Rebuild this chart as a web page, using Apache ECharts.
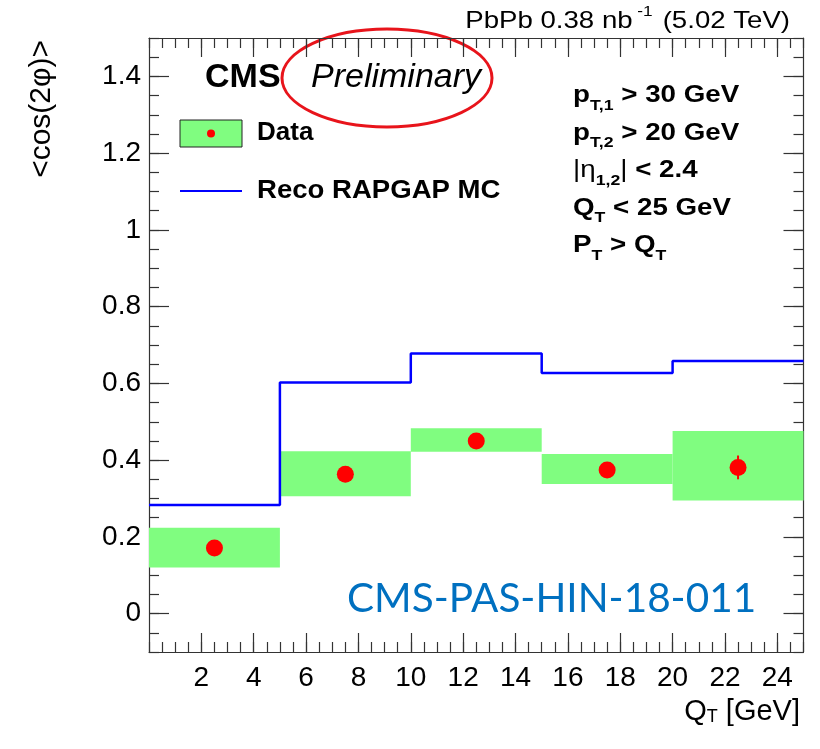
<!DOCTYPE html>
<html>
<head>
<meta charset="utf-8">
<script src="https://cdn.jsdelivr.net/npm/echarts@6/dist/echarts.min.js"></script>
<style>
  html, body { margin: 0; padding: 0; background: #fff; }
  #chart { width: 820px; height: 749px; }
</style>
</head>
<body>
<div id="chart"></div>
<script>
// bins of Q_T [GeV]
const binEdges = [0, 5, 10, 15, 20, 25];
// data points and uncertainties
const dataValues = [0.171, 0.363, 0.450, 0.374, 0.381];
const dataStatErr = [0.015, 0.015, 0.013, 0.013, 0.031];
const dataSystLow = [0.120, 0.306, 0.422, 0.338, 0.295];
const dataSystHigh = [0.224, 0.423, 0.483, 0.416, 0.476];
// Reco RAPGAP MC histogram
const mcValues = [0.283, 0.602, 0.678, 0.627, 0.658];
// axis ticks
const xTickValues = [2, 4, 6, 8, 10, 12, 14, 16, 18, 20, 22, 24];
const yTickValues = [0, 0.2, 0.4, 0.6, 0.8, 1, 1.2, 1.4];
// selection cuts (rich text)
const cutLines = [
    '{n|p}{s|T,1}{n| > 30 GeV}',
    '{n|p}{s|T,2}{n| > 20 GeV}',
    '{t||η}{s|1,2}{t||}{n| < 2.4}',
    '{n|Q}{s|T}{n| < 25 GeV}',
    '{n|P}{s|T}{n| > Q}{s|T}'
];

const FONT = '"Liberation Sans", Arial, Helvetica, sans-serif';
const FRAME = '#333';

const chart = echarts.init(document.getElementById('chart'), null, {renderer: 'canvas'});

const bands = dataValues.map((v, i) => [binEdges[i], binEdges[i + 1], dataSystLow[i], dataSystHigh[i]]);
const points = dataValues.map((v, i) => [(binEdges[i] + binEdges[i + 1]) / 2, v]);
const errors = dataValues.map((v, i) => [(binEdges[i] + binEdges[i + 1]) / 2, v - dataStatErr[i], v + dataStatErr[i]]);
const mcLine = mcValues.map((v, i) => [binEdges[i], v]);
mcLine.push([binEdges[binEdges.length - 1], mcValues[mcValues.length - 1]]);

function xAxisDef(position, major, showLabel) {
    return {
        type: 'value', position: position, min: 0, max: 25,
        interval: major ? 2 : 0.5,
        axisLine: {show: major, onZero: false, lineStyle: {color: FRAME, width: 1.2}},
        axisTick: {show: true, inside: true, length: major ? 19 : 10,
            customValues: major ? xTickValues : undefined,
            lineStyle: {color: FRAME, width: 1.2}},
        axisLabel: {show: showLabel, customValues: xTickValues, margin: 12,
            color: '#000', fontSize: 28, fontFamily: FONT},
        splitLine: {show: false}
    };
}

function yAxisDef(position, major, showLabel) {
    const ax = {
        type: 'value', position: position, min: -0.1, max: 1.5,
        axisLine: {show: major, onZero: false, lineStyle: {color: FRAME, width: 1.2}},
        axisTick: {show: true, inside: true, length: major ? 20 : 10,
            lineStyle: {color: FRAME, width: 1.2}},
        axisLabel: {show: showLabel, customValues: yTickValues, margin: 8,
            color: '#000', fontSize: 28, fontFamily: FONT,
            formatter: v => String(Math.round(v * 10) / 10)},
        splitLine: {show: false}
    };
    if (major) {
        ax.axisTick.customValues = yTickValues;
    } else {
        ax.interval = 0.05;
    }
    return ax;
}

const cutRich = {
    n: {fontSize: 23.5, fontWeight: 'bold', fontFamily: FONT, fill: '#000', lineHeight: 26, verticalAlign: 'top'},
    t: {fontSize: 23.5, fontWeight: 'normal', fontFamily: FONT, fill: '#000', lineHeight: 26, verticalAlign: 'top'},
    s: {fontSize: 15, fontWeight: 'bold', fontFamily: FONT, fill: '#000', lineHeight: 26, padding: [14, 0, 0, 0], verticalAlign: 'top'}
};

const option = {
    animation: false,
    backgroundColor: '#fff',
    grid: {left: 149, right: 16.5, top: 38, bottom: 97, containLabel: false},
    xAxis: [
        xAxisDef('bottom', true, true),
        xAxisDef('bottom', false, false),
        xAxisDef('top', true, false),
        xAxisDef('top', false, false)
    ],
    yAxis: [
        yAxisDef('left', true, true),
        yAxisDef('left', false, false),
        yAxisDef('right', true, false),
        yAxisDef('right', false, false)
    ],
    series: [
        {
            type: 'custom', name: 'syst',
            data: bands,
            encode: {x: [0, 1], y: [2, 3]},
            renderItem: function (params, api) {
                const p0 = api.coord([api.value(0), api.value(3)]);
                const p1 = api.coord([api.value(1), api.value(2)]);
                return {
                    type: 'rect',
                    shape: {x: p0[0], y: p0[1], width: p1[0] - p0[0], height: p1[1] - p0[1]},
                    style: {fill: '#80fd80'}
                };
            },
            z: 2
        },
        {
            type: 'line', name: 'Reco RAPGAP MC',
            data: mcLine, step: 'end', symbol: 'none',
            lineStyle: {color: '#0000ff', width: 2.5},
            z: 3
        },
        {
            type: 'custom', name: 'stat',
            data: errors,
            encode: {x: 0, y: [1, 2]},
            renderItem: function (params, api) {
                const lo = api.coord([api.value(0), api.value(1)]);
                const hi = api.coord([api.value(0), api.value(2)]);
                return {
                    type: 'line',
                    shape: {x1: lo[0], y1: lo[1], x2: hi[0], y2: hi[1]},
                    style: {stroke: '#ff0000', lineWidth: 2}
                };
            },
            z: 4
        },
        {
            type: 'scatter', name: 'Data',
            data: points, symbol: 'circle', symbolSize: 17,
            itemStyle: {color: '#ff0000', opacity: 1},
            z: 5
        }
    ],
    graphic: [
        // top label
        {
            type: 'text', x: 790, y: 17, scaleX: 1.15,
            style: {
                text: '{n|PbPb 0.38 nb}{s| -1}{n| (5.02 TeV)}',
                textAlign: 'right', textVerticalAlign: 'middle',
                rich: {
                    n: {fontSize: 24, fontFamily: FONT, fill: '#000', lineHeight: 26, padding: [5, 0, 0, 0], verticalAlign: 'top'},
                    s: {fontSize: 15, fontFamily: FONT, fill: '#000', lineHeight: 26, padding: [0, 2, 0, 0], verticalAlign: 'top'}
                }
            }
        },
        // CMS Preliminary
        {
            type: 'text', x: 205, y: 78,
            style: {text: 'CMS', font: 'bold 34px ' + FONT, fill: '#000', textVerticalAlign: 'middle'}
        },
        {
            type: 'text', x: 311, y: 78,
            style: {text: 'Preliminary', font: 'italic 34px ' + FONT, fill: '#000', textVerticalAlign: 'middle'}
        },
        {
            type: 'ellipse',
            shape: {cx: 387, cy: 78, rx: 105, ry: 49},
            style: {fill: null, stroke: '#e8141b', lineWidth: 3}
        },
        // legend
        {
            type: 'rect',
            shape: {x: 180, y: 120, width: 62, height: 27},
            style: {fill: '#80fd80', stroke: '#222', lineWidth: 1}
        },
        {
            type: 'circle',
            shape: {cx: 211, cy: 133.5, r: 4},
            style: {fill: '#ff0000'}
        },
        {
            type: 'text', x: 257, y: 133,
            style: {text: 'Data', font: 'bold 26px ' + FONT, fill: '#000', textVerticalAlign: 'middle'}
        },
        {
            type: 'line',
            shape: {x1: 180, y1: 191, x2: 242, y2: 191},
            style: {stroke: '#0000ff', lineWidth: 2}
        },
        {
            type: 'text', x: 257, y: 191, scaleX: 1.06,
            style: {text: 'Reco RAPGAP MC', font: 'bold 26px ' + FONT, fill: '#000', textVerticalAlign: 'middle'}
        },
        // selection cuts
        ...cutLines.map((txt, i) => ({
            type: 'text', x: 573, y: 84 + i * 37.5, scaleX: 1.18,
            style: {text: txt, rich: cutRich}
        })),
        // PAS number
        {
            type: 'text', x: 347, y: 599,
            style: {text: 'CMS-PAS-HIN-18-011', font: '40.5px Lato, "Open Sans", sans-serif', fill: '#0070c0', textVerticalAlign: 'middle'}
        },
        // axis titles
        {
            type: 'text', x: 42, y: 40, rotation: Math.PI / 2,
            style: {text: '<cos(2φ)>', font: '30px ' + FONT, fill: '#000', textAlign: 'right', textVerticalAlign: 'middle'}
        },
        {
            type: 'text', x: 800, y: 712,
            style: {
                text: '{n|Q}{s|T}{n| [GeV]}',
                textAlign: 'right', textVerticalAlign: 'middle',
                rich: {
                    n: {fontSize: 29, fontFamily: FONT, fill: '#000', lineHeight: 30, verticalAlign: 'top'},
                    s: {fontSize: 18, fontFamily: FONT, fill: '#000', lineHeight: 30, padding: [11, 0, 0, 0], verticalAlign: 'top'}
                }
            }
        }
    ]
};

chart.setOption(option);
</script>
</body>
</html>
